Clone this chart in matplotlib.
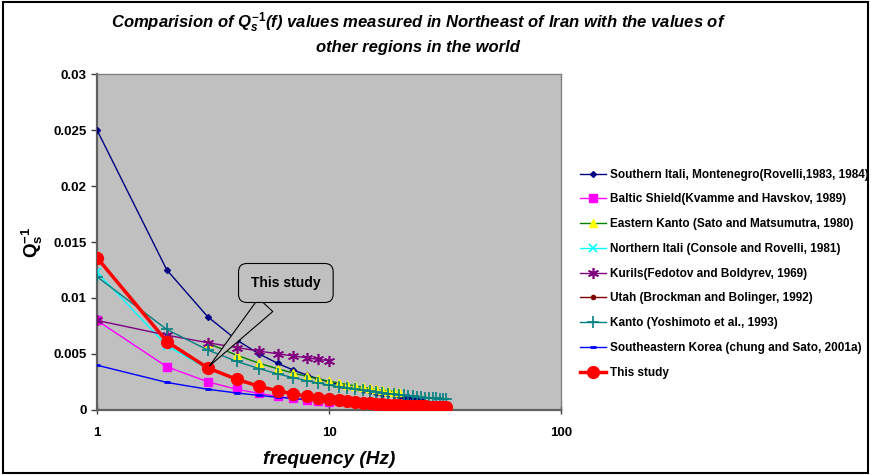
import numpy as np
import matplotlib
matplotlib.use('Agg')
import matplotlib.pyplot as plt
from matplotlib.patches import Rectangle

plt.rcParams['font.family'] = ['Liberation Sans', 'DejaVu Sans']
plt.rcParams['mathtext.fontset'] = 'custom'
plt.rcParams['mathtext.it'] = 'Liberation Sans:bold:italic'
plt.rcParams['mathtext.rm'] = 'Liberation Sans:bold'
plt.rcParams['mathtext.bf'] = 'Liberation Sans:bold'

# data (frequency in Hz, Qs^-1)
f_s_italy = list(range(1, 26))
q_s_italy = [0.025, 0.0125, 0.00833, 0.00625, 0.005, 0.00417, 0.00357, 0.00313, 0.00278, 0.0025,
             0.00227, 0.00208, 0.00192, 0.00179, 0.00167, 0.00156, 0.00147, 0.00139, 0.00132, 0.00125,
             0.00119, 0.00114, 0.00109, 0.00104, 0.001]

f_baltic = list(range(1, 11))
q_baltic = [0.008, 0.00386, 0.00252, 0.00185, 0.00148, 0.00122, 0.00104, 0.0009, 0.0008, 0.00071]

f_e_kanto = list(range(3, 21))
q_e_kanto = [0.00598, 0.00489, 0.00418, 0.00368, 0.0033, 0.00301, 0.00277, 0.00257, 0.00241,
             0.00227, 0.00214, 0.00203, 0.00194, 0.00185, 0.00178, 0.00171, 0.00164, 0.00158]

f_n_italy = list(range(1, 11))
q_n_italy = [0.0123, 0.00574, 0.00367, 0.00268, 0.00209, 0.00171, 0.00145, 0.00125, 0.0011, 0.00098]

f_kurils = list(range(1, 11))
q_kurils = [0.008, 0.00668, 0.00601, 0.00558, 0.00526, 0.00502, 0.00483, 0.00466, 0.00452, 0.0044]

# Utah series is not visible in the picture (hidden under the other curves)
f_utah = []
q_utah = []

f_kanto = list(range(1, 33))
q_kanto = [0.0119, 0.00719, 0.00536, 0.00434, 0.00369, 0.00323, 0.00289, 0.00262, 0.00241, 0.00223,
           0.00208, 0.00195, 0.00184, 0.00175, 0.00166, 0.00159, 0.00152, 0.00146, 0.0014, 0.00135,
           0.0013, 0.00126, 0.00122, 0.00118, 0.00115, 0.00111, 0.00108, 0.00106, 0.00103, 0.001,
           0.00098, 0.00096]

f_korea = list(range(1, 33))
q_korea = [0.004, 0.00246, 0.00185, 0.00152, 0.0013, 0.00114, 0.00102, 0.00093, 0.00086, 0.0008,
           0.00075, 0.0007, 0.00066, 0.00063, 0.0006, 0.00057, 0.00055, 0.00053, 0.00051, 0.00049,
           0.00047, 0.00046, 0.00045, 0.00043, 0.00042, 0.00041, 0.0004, 0.00039, 0.00038, 0.00037,
           0.00036, 0.00035]

f_this = list(range(1, 33))
q_this = [0.0136, 0.00611, 0.00376, 0.00274, 0.00212, 0.00172, 0.00144, 0.00123, 0.00108, 0.00095,
          0.00085, 0.00077, 0.0007, 0.00065, 0.0006, 0.00055, 0.00052, 0.00048, 0.00045, 0.00043,
          0.0004, 0.00038, 0.00036, 0.00035, 0.00033, 0.00032, 0.0003, 0.00029, 0.00028, 0.00027,
          0.00026, 0.00025]

labels = ['Southern Itali, Montenegro(Rovelli,1983, 1984)',
          'Baltic Shield(Kvamme and Havskov, 1989)',
          'Eastern Kanto (Sato and Matsumutra, 1980)',
          'Northern Itali (Console and Rovelli, 1981)',
          'Kurils(Fedotov and Boldyrev, 1969)',
          'Utah (Brockman and Bolinger, 1992)',
          'Kanto (Yoshimoto et al., 1993)',
          'Southeastern Korea (chung and Sato, 2001a)',
          'This study']

yticks = [0, 0.005, 0.01, 0.015, 0.02, 0.025, 0.03]
ytick_labels = ['0', '0.005', '0.01', '0.015', '0.02', '0.025', '0.03']
xticks = [1, 10, 100]
xtick_labels = ['1', '10', '100']

fig = plt.figure(figsize=(8.71, 4.75), dpi=100)
ax = fig.add_axes([97/871, 1-410/475, 464/871, 336/475])
ax.set_facecolor('#C0C0C0')

ax.plot(f_s_italy, q_s_italy, color='#000080', lw=1, marker='D', ms=3, label=labels[0], zorder=3)
ax.plot(f_baltic, q_baltic, color='#FF00FF', lw=1, marker='s', ms=6, label=labels[1], zorder=3)
ax.plot(f_e_kanto, q_e_kanto, color='#008000', lw=1, marker='^', ms=6, mfc='#FFFF00', mec='#FFFF00',
        label=labels[2], zorder=3)
ax.plot(f_n_italy, q_n_italy, color='#00FFFF', lw=1, marker='x', ms=6, mew=1.2, label=labels[3], zorder=3)
ax.plot(f_kurils, q_kurils, color='#800080', lw=1, marker=(6, 2, 0), ms=8, mew=1.2, label=labels[4], zorder=3)
ax.plot(f_utah, q_utah, color='#800000', lw=1, marker='o', ms=3, label=labels[5], zorder=3)
ax.plot(f_kanto, q_kanto, color='#008080', lw=1, marker='+', ms=8, mew=1.2, label=labels[6], zorder=3)
ax.plot(f_korea, q_korea, color='#0000FF', lw=1, marker='_', ms=5, mew=2, label=labels[7], zorder=3)
ax.plot(f_this, q_this, color='#FF0000', lw=2.5, marker='o', ms=8.5, label=labels[8], zorder=4)

ax.set_xscale('log')
ax.set_xlim(1, 100)
ax.set_ylim(0, 0.03)
ax.set_xticks(xticks)
ax.set_xticklabels(xtick_labels)
ax.xaxis.set_minor_locator(matplotlib.ticker.NullLocator())
ax.set_yticks(yticks)
ax.set_yticklabels(ytick_labels)
ax.tick_params(axis='both', labelsize=9.5, length=4, width=1, color='#404040')
ax.tick_params(axis='x', direction='inout', length=6, pad=9)
for lab in ax.get_xticklabels() + ax.get_yticklabels():
    lab.set_fontweight('bold')

for s in ['left', 'bottom']:
    ax.spines[s].set_color('#606060')
    ax.spines[s].set_linewidth(1.6)
for s in ['top', 'right']:
    ax.spines[s].set_color('#808080')
    ax.spines[s].set_linewidth(1)

ax.set_xlabel('frequency (Hz)', fontsize=13.7, fontweight='bold', fontstyle='italic', labelpad=9)
ax.set_ylabel(r'$\mathrm{Q_s^{-1}}$', fontsize=13.5, labelpad=6)

fig.text(0.48, 0.953, r'Comparision of $Q_s^{-1}$(f) values measured in Northeast of Iran with the values of',
         ha='center', va='center', fontsize=12, fontweight='bold', fontstyle='italic')
fig.text(0.48, 0.900, 'other regions in the world',
         ha='center', va='center', fontsize=12, fontweight='bold', fontstyle='italic')

# callout
ax.annotate('This study', xy=(f_this[2], q_this[2]), xytext=(0.407, 0.378), textcoords='axes fraction',
            ha='center', va='center', fontsize=10, fontweight='bold',
            bbox=dict(boxstyle='round,pad=0.9,rounding_size=0.6', fc='#C0C0C0', ec='black', lw=0.8),
            arrowprops=dict(arrowstyle='wedge,tail_width=1.4,shrink_factor=0.5', fc='#C0C0C0', ec='black', lw=0.8),
            zorder=6)

fig.legend(loc='upper left', bbox_to_anchor=(575/871, 1-164/475), frameon=False,
           handlelength=2.2, handletextpad=0.4, labelspacing=1.08, borderaxespad=0,
           prop={'weight': 'bold', 'size': 8.5})

fig.patches.append(Rectangle((0.004, 0.004), 0.992, 0.992, transform=fig.transFigure,
                             fill=False, ec='black', lw=1.5))

fig.savefig('out.png', dpi=100)
